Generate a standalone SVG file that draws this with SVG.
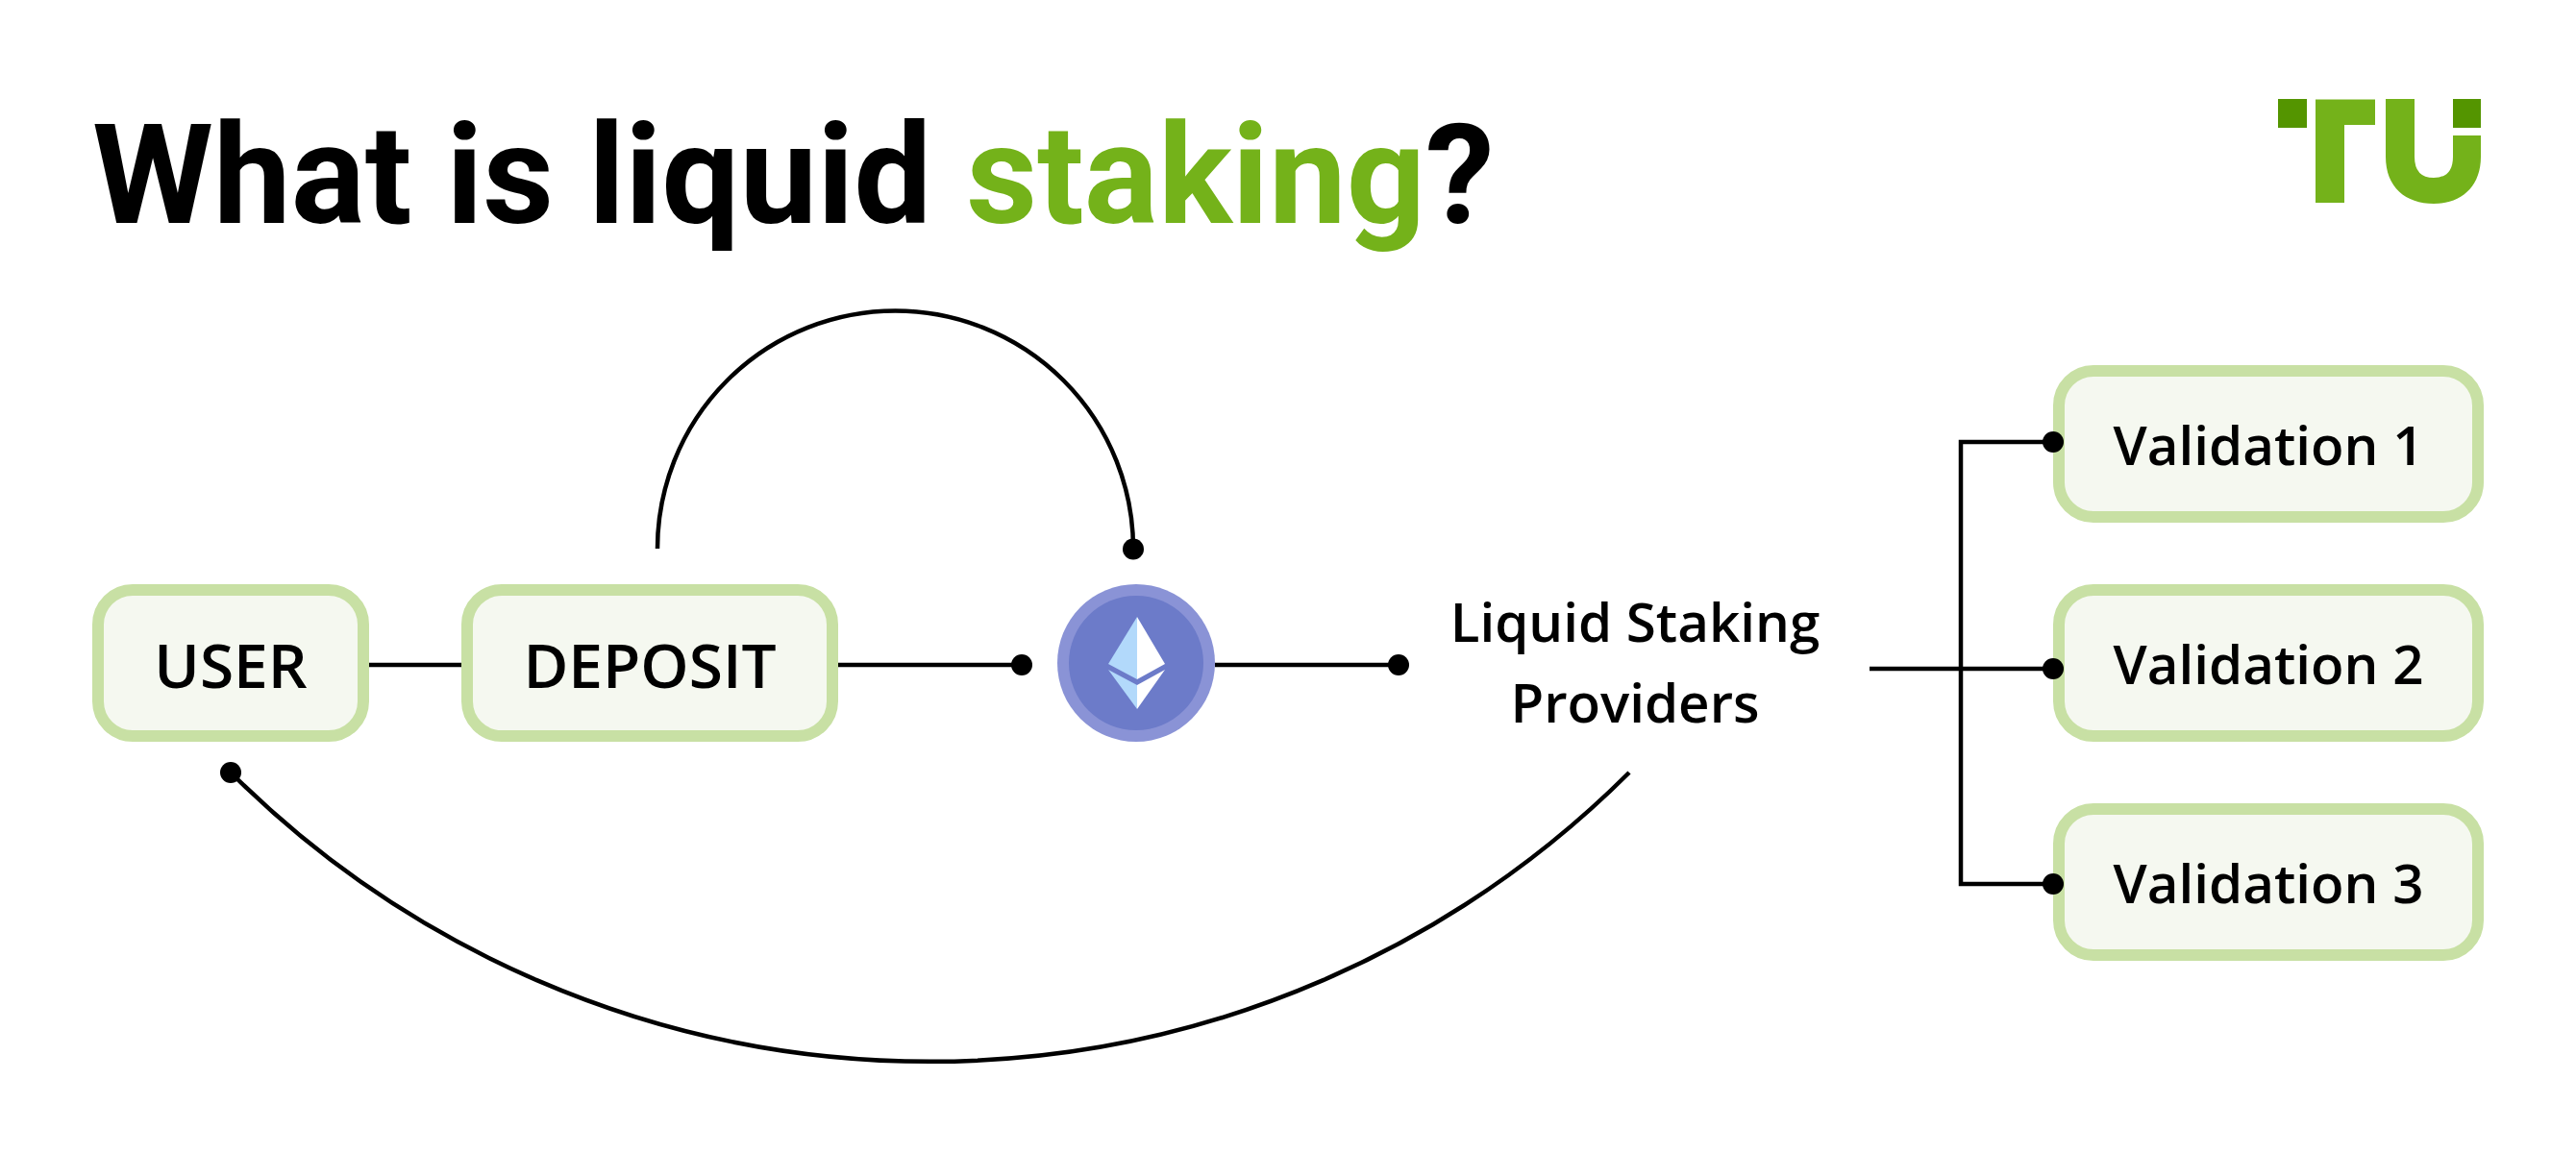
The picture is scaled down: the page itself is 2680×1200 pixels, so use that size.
<svg xmlns="http://www.w3.org/2000/svg" width="2680" height="1200" viewBox="0 0 2680 1200">
<style>
.box{fill:#f5f8f0;stroke:#c8e0a4;stroke-width:12}
.lbl{font-family:"Open Sans","Noto Sans",sans-serif;font-size:56.500px;font-weight:600;fill:#000;text-anchor:middle}
.cap{font-size:64px}
.title{font-family:Roboto,sans-serif;font-size:144px;font-weight:700;fill:#000}
.ln{fill:none;stroke:#000;stroke-width:4.500}
.dot{fill:#000}
</style>
<rect width="2680" height="1200" fill="#fff"/>
<text class="title" x="96" y="232">What is liquid <tspan fill="#74b21a">staking</tspan>?</text>
<g id="logo">
<rect x="2370" y="103" width="30" height="30" fill="#549500"/>
<rect x="2552" y="103" width="29" height="30" fill="#549500"/>
<path d="M2409 103.500H2471V130H2439V211H2409Z" fill="#74b21a"/>
<path d="M2482 103H2512V163Q2512 185 2532 185Q2552 185 2552 163V141H2581V163C2581 195 2560 212 2532 212C2503 212 2482 195 2482 163Z" fill="#74b21a"/>
</g>
<g id="connectors">
<path class="ln" d="M384 692H480"/>
<path class="ln" d="M872 692H1063"/>
<circle class="dot" cx="1063" cy="692" r="11"/>
<path class="ln" d="M1264 692H1455"/>
<circle class="dot" cx="1455" cy="692" r="11"/>
<path class="ln" d="M684 571A247.500 247.500 0 0 1 1179 571"/>
<circle class="dot" cx="1179" cy="571.500" r="11"/>
<path class="ln" d="M1695 804A1030 1030 0 0 1 240 804"/>
<circle class="dot" cx="240" cy="804" r="11"/>
<path class="ln" d="M1945 696H2136M2136 460H2040V920H2136"/>
</g>
<g id="user"><rect class="box" x="102" y="614" width="276" height="152" rx="36"/><text class="lbl cap" x="240" y="716">USER</text></g>
<g id="deposit"><rect class="box" x="486" y="614" width="380" height="152" rx="36"/><text class="lbl cap" x="676" y="716">DEPOSIT</text></g>
<g id="eth">
<circle cx="1182" cy="690" r="82" fill="#8a93d6"/>
<circle cx="1182" cy="690" r="70" fill="#6c7bc9"/>
<path d="M1183 642V707L1153 691Z" fill="#b2d9fb"/>
<path d="M1183 642V707L1212 691Z" fill="#fff"/>
<path d="M1153 697L1183 713V738Z" fill="#b2d9fb"/>
<path d="M1183 713V738L1212 697Z" fill="#fff"/>
</g>
<g id="providers"><text class="lbl" x="1701" y="668">Liquid Staking</text><text class="lbl" x="1701" y="752">Providers</text></g>
<g id="v1"><rect class="box" x="2142" y="386" width="436" height="152" rx="36"/><text class="lbl" x="2360" y="484">Validation 1</text><circle class="dot" cx="2136" cy="460" r="11"/></g>
<g id="v2"><rect class="box" x="2142" y="614" width="436" height="152" rx="36"/><text class="lbl" x="2360" y="712">Validation 2</text><circle class="dot" cx="2136" cy="696" r="11"/></g>
<g id="v3"><rect class="box" x="2142" y="842" width="436" height="152" rx="36"/><text class="lbl" x="2360" y="940">Validation 3</text><circle class="dot" cx="2136" cy="920" r="11"/></g>
</svg>
